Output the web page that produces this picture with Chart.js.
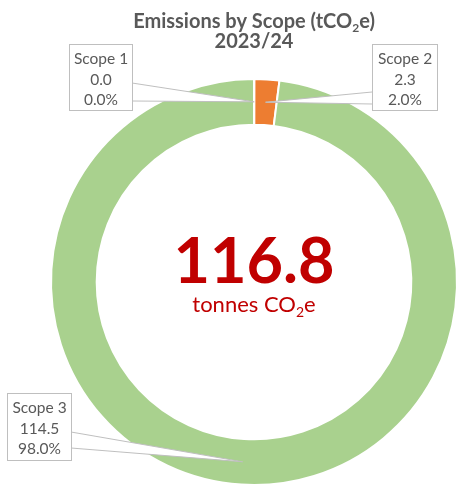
<!DOCTYPE html>
<html>
<head>
<meta charset="utf-8">
<script src="https://cdn.jsdelivr.net/npm/chart.js@4.4.1/dist/chart.umd.min.js"></script>
<style>
  html, body { margin: 0; padding: 0; background: #fff; }
  #wrap { width: 464px; height: 488px; }
</style>
</head>
<body>
<div id="wrap"><canvas id="chart" width="464" height="488"></canvas></div>
<script>
const scopes = ["Scope 1", "Scope 2", "Scope 3"]
const emissions = [0.04, 2.3, 114.5] // tCO2e, 2023/24
const colours = ["#4472C4", "#ED7D31", "#A9D18E"]
const titleParts = ["Emissions by Scope (tCO", "2", "e)"]
const titleYear = "2023/24"
const unitParts = ["tonnes CO", "2", "e"]

const FONT = "Lato, 'Open Sans', sans-serif"
const GREY = "#595959"
const RED = "#C00000"

// callout boxes, pointer base is two points on the box edge facing the ring
const callouts = [
  { x: 69, y: 44, w: 63, h: 66, edge: "right", p1: 83, p2: 101 },
  { x: 372, y: 44, w: 65, h: 66, edge: "left", p1: 92, p2: 104 },
  { x: 7, y: 393, w: 64, h: 67, edge: "right", p1: 432, p2: 448 },
]

const total = emissions.reduce((a, b) => a + b, 0)

// draws text with a subscript middle part, centred on cx
function drawSubText(ctx, parts, cx, baseline, size, weight, colour) {
  const big = `${weight} ${size}px ${FONT}`
  const small = `${weight} ${Math.round(size * 0.62)}px ${FONT}`
  ctx.font = big
  const w0 = ctx.measureText(parts[0]).width
  const w2 = ctx.measureText(parts[2]).width
  ctx.font = small
  const w1 = ctx.measureText(parts[1]).width
  let x = cx - (w0 + w1 + w2) / 2
  ctx.fillStyle = colour
  ctx.textAlign = "left"
  ctx.textBaseline = "alphabetic"
  ctx.font = big
  ctx.fillText(parts[0], x, baseline)
  x += w0
  ctx.font = small
  ctx.fillText(parts[1], x, baseline + size * 0.22)
  x += w1
  ctx.font = big
  ctx.fillText(parts[2], x, baseline)
}

const textPlugin = {
  id: "texts",
  afterDraw(chart) {
    const ctx = chart.ctx
    const arcs = chart.getDatasetMeta(0).data
    const cx = arcs[0].x

    ctx.save()
    // title
    drawSubText(ctx, titleParts, cx, 28, 20, "bold", GREY)
    ctx.font = `bold 20px ${FONT}`
    ctx.textAlign = "center"
    ctx.fillText(titleYear, cx, 48)

    // centre total
    ctx.fillStyle = RED
    ctx.font = `bold 63px ${FONT}`
    ctx.textAlign = "center"
    ctx.textBaseline = "alphabetic"
    ctx.fillText(total.toFixed(1), cx, 283)
    drawSubText(ctx, unitParts, cx, 312, 22, "normal", RED)

    // callouts
    arcs.forEach((arc, i) => {
      const p = arc.getProps(["x", "y", "startAngle", "endAngle", "innerRadius", "outerRadius"], true)
      const mid = (p.startAngle + p.endAngle) / 2
      const r = (p.innerRadius + p.outerRadius) / 2
      const ax = p.x + Math.cos(mid) * r
      const ay = p.y + Math.sin(mid) * r
      const c = callouts[i]
      const ex = c.edge === "right" ? c.x + c.w : c.x

      ctx.beginPath()
      ctx.moveTo(ex, c.p1)
      ctx.lineTo(ax, ay)
      ctx.lineTo(ex, c.p2)
      ctx.closePath()
      ctx.fillStyle = "#fff"
      ctx.fill()
      ctx.beginPath()
      ctx.moveTo(ex, c.p1)
      ctx.lineTo(ax, ay)
      ctx.lineTo(ex, c.p2)
      ctx.strokeStyle = "#BFBFBF"
      ctx.lineWidth = 1
      ctx.stroke()

      ctx.fillStyle = "#fff"
      ctx.fillRect(c.x, c.y, c.w, c.h)
      ctx.strokeRect(c.x + 0.5, c.y + 0.5, c.w, c.h)

      const pct = (emissions[i] / total * 100).toFixed(1) + "%"
      const lines = [scopes[i], emissions[i].toFixed(1), pct]
      ctx.fillStyle = GREY
      ctx.font = `15.5px ${FONT}`
      ctx.textAlign = "center"
      ctx.textBaseline = "middle"
      lines.forEach((t, j) => ctx.fillText(t, c.x + c.w / 2 + 0.5, c.y + 15 + j * 20.5))
    })
    ctx.restore()
  },
}

new Chart(document.getElementById("chart"), {
  type: "doughnut",
  data: {
    labels: scopes,
    datasets: [
      {
        data: emissions,
        backgroundColor: colours,
        borderColor: "#ffffff",
        borderWidth: 2,
      },
    ],
  },
  options: {
    responsive: false,
    animation: false,
    cutout: "77.5%",
    rotation: 0,
    layout: { padding: { left: 50, right: 6, top: 78, bottom: 2 } },
    plugins: {
      legend: { display: false },
      tooltip: { enabled: false },
      title: { display: false },
    },
  },
  plugins: [textPlugin],
})
</script>
</body>
</html>
